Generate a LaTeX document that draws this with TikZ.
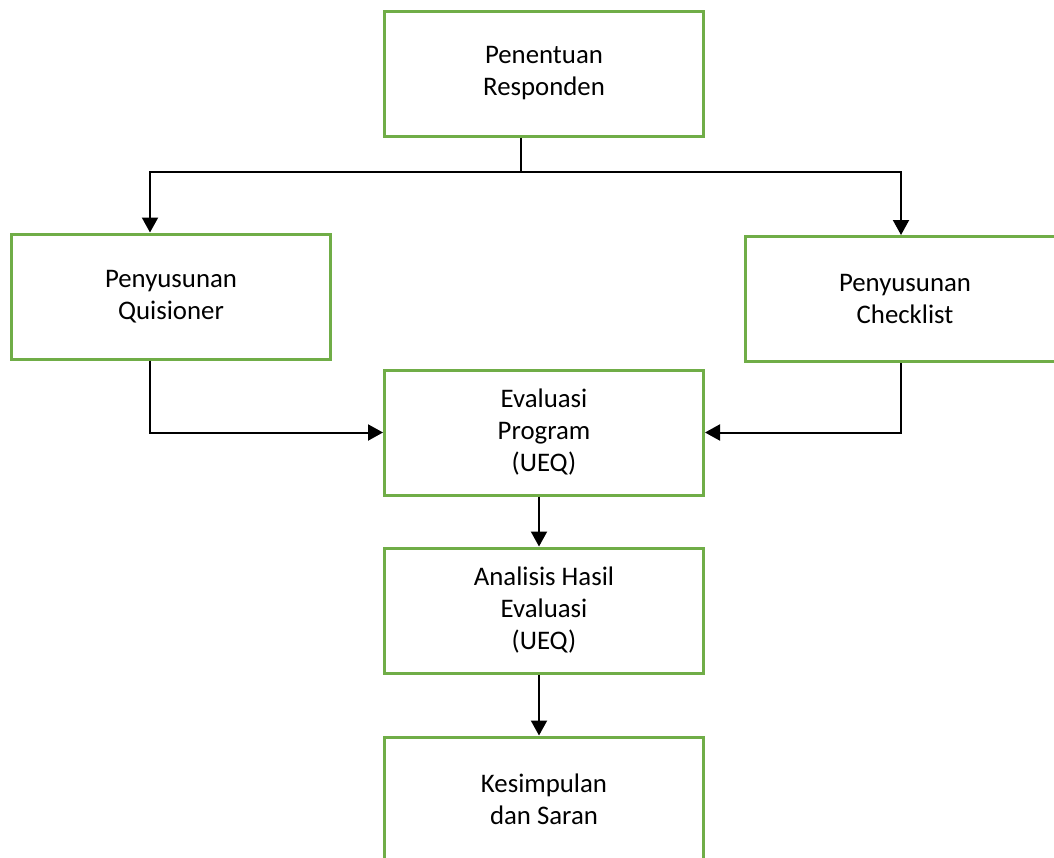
\documentclass[tikz,border=0pt]{standalone}
\usepackage{fontspec}
\setmainfont{Carlito}
\usepackage{tikz}
\usetikzlibrary{arrows.meta, positioning, calc}

\definecolor{boxgreen}{HTML}{70AD47}

\begin{document}
\begin{tikzpicture}[
    x=1pt, y=1pt,
    box/.style={rectangle, draw=boxgreen, line width=1.5pt, minimum width=159.5pt, minimum height=62.5pt, align=center, font=\fontsize{13.4pt}{16pt}\selectfont},
    line/.style={line width=1pt},
    arrow/.style={-{Triangle[length=7.5pt, width=8pt]}, line width=1pt}
]
\useasboundingbox (0,0) rectangle (527,-428.5);
\node[box] (resp) at (272,-36.75) {Penentuan\\Responden};
\node[box] (quis) at (85.5,-148.25) {Penyusunan\\Quisioner};
\node[box] (check) at (452.5,-149.5) {Penyusunan\\Checklist};
\node[box] (eval) at (272,-216.25) {Evaluasi\\Program\\(UEQ)};
\node[box, below=25pt of eval] (anal) {Analisis Hasil\\Evaluasi\\(UEQ)};
\node[box, below=30.5pt of anal] (kesim) {Kesimpulan\\dan Saran};
\coordinate (split) at (260.5,-86);
\draw[line] (resp.south -| split) -- (split);
\draw[arrow] (split) -| ([xshift=-10.5pt]quis.north);
\draw[arrow] (split) -| ([xshift=-2pt]check.north);
\draw[arrow] ([xshift=-10.5pt]quis.south) |- (eval.west);
\draw[arrow] ([xshift=-2pt]check.south) |- (eval.east);
\draw[arrow] ([xshift=-2.5pt]eval.south) -- ([xshift=-2.5pt]anal.north);
\draw[arrow] ([xshift=-2.5pt]anal.south) -- ([xshift=-2.5pt]kesim.north);
\end{tikzpicture}
\end{document}
